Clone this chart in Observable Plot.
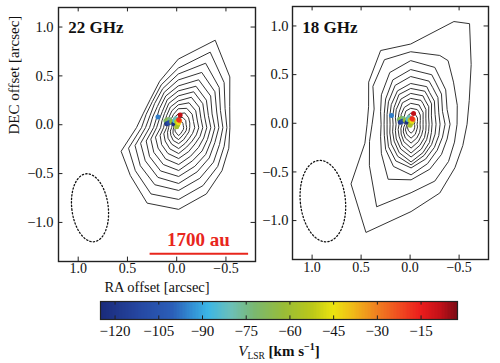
<!DOCTYPE html>
<html><head><meta charset="utf-8">
<script src="https://cdn.jsdelivr.net/npm/d3@7"></script>
<script src="https://cdn.jsdelivr.net/npm/@observablehq/plot@0.6"></script>
<style>
body{margin:0;background:#fff}
#root{position:relative;width:500px;height:363px;overflow:hidden;background:#fff}
#root > svg{position:absolute}
</style></head><body><div id="root"></div>
<script>
// ---------------- data ----------------
const xTicks = [1.0, 0.5, 0.0, -0.5];
const yTicks = [1.0, 0.5, 0.0, -0.5, -1.0];
const vTicks = [-120, -105, -90, -75, -60, -45, -30, -15];
const vDomain = [-125, -2.5];
// colour map stops (km/s -> colour)
const cmapV = [-125, -112, -100, -93, -88, -80, -72, -62, -52, -45, -38, -30, -22, -15, -8, -2.5];
const cmapC = ["#1a2a7a", "#2546a0", "#2b5fb8", "#3393d6", "#3bb6e6", "#6cc0b8", "#7ab870", "#98bc38",
               "#bcc818", "#ece410", "#f0b818", "#f08020", "#f04a20", "#ec1c1c", "#c01018", "#7a0a14"];

// water masers: offsets [arcsec] and V_LSR [km/s]
const masRA  = [0.19, 0.11, 0.09, 0.07, 0.10, 0.08, 0.05, 0.03, 0.02, 0.01, 0.00, -0.01, 0.00, -0.02, -0.03, -0.02, -0.035];
const masDEC = [0.08, 0.04, 0.05, 0.05, 0.01, 0.02, 0.03, 0.01, 0.04, 0.06, 0.03, 0.00, -0.02, 0.02, 0.04, 0.05, 0.10];
const masV   = [-96, -70, -66, -74, -118, -110, -62, -122, -85, -80, -52, -56, -58, -44, -28, -18, -8];

// continuum contours, read along rays (deg, clockwise from north on the page);
// each row: radii of the contours (inner -> outer) in units of 0.01 arcsec
const rayAngles22 = [0, 22.5, 45, 67.5, 90, 112.5, 135, 157.5, 180, 202.5, 225, 247.5, 270, 292.5, 315, 337.5];
const center22 = [-0.02, -0.03];
const rad22 = [
  [7,10,14,19,23,27,32,37,42,48,54,60,69],
  [7,11,16,21,27,33,39,45,52,60,70,82,95],
  [6,10,14,19,24,29,34,39,45,51,57,64,72],
  [5,8,12,16,20,24,28,32,36,41,45,50,55],
  [5,8,11,16,20,24,28,32,36,40,44,48,51],
  [5,8,11,15,19,23,27,31,35,39,44,49,54],
  [5,8,11,15,19,23,28,33,38,43,49,55,61],
  [6,9,13,17,21,26,31,36,42,48,55,63,72],
  [8,12,16,21,26,31,37,43,49,56,63,72,82],
  [6,10,14,18,23,28,34,40,47,54,62,72,82],
  [5,8,11,15,19,24,29,35,41,47,54,61,68],
  [4,6,9,12,16,20,25,30,35,41,47,54,62],
  [3,5,7,10,12,15,18,22,25,29,33,37,42],
  [3,5,7,10,12,15,18,21,24,28,31,35,38],
  [4,6,9,11,14,17,20,23,27,30,34,37,40],
  [5,8,11,14,18,22,26,30,34,38,42,46,50]
];
const rayAngles18 = [0, 22.5, 30, 45, 67.5, 90, 112.5, 135, 157.5, 180, 202.5, 225, 247.5, 270, 292.5, 315, 337.5];
const center18 = [-0.01, -0.01];
const rad18 = [
  [6,11,16,21,26,31,36,41,48,55,64,73,81],
  [6,11,16,21,26,31,36,41,47,54,62,75,112],
  [6,10,15,19,24,28,33,37,43,49,56,74,117],
  [5,9,13,17,21,25,29,33,38,43,49,60,85],
  [4,7,10,13,16,19,22,26,30,34,39,50,63],
  [3,6,9,12,15,18,21,25,29,34,39,46,56],
  [4,7,10,13,16,19,22,26,30,34,39,47,56],
  [5,8,12,15,19,22,26,29,33,37,43,53,62],
  [7,11,15,19,23,27,31,34,38,43,49,62,75],
  [9,14,19,24,29,33,38,41,44,51,56,69,88],
  [7,11,15,19,23,27,31,35,40,46,60,90,118],
  [5,8,11,14,17,21,24,28,32,36,42,59,85],
  [3,5,8,11,14,17,20,23,26,29,33,45,50],
  [2,4,6,9,12,15,18,21,24,27,30,39,44],
  [3,5,8,11,14,17,20,23,26,29,33,40,46],
  [4,7,10,14,17,21,24,28,32,36,42,54,60],
  [5,9,14,18,23,27,32,36,42,48,56,70,80]
];
const R_UNIT = 0.0102; // arcsec per table unit

// synthesized beams: centre RA, DEC, semi-major, semi-minor [arcsec], PA [deg]
const beamRA = [0.88, 0.89], beamDEC = [-0.85, -0.80];
const beamMaj = [0.35, 0.42], beamMin = [0.185, 0.23], beamPA = [7, 6];

const panelLabels = ["22 GHz", "18 GHz"];
const scaleBarLabel = "1700 au";

// ---------------- helpers ----------------
const FONT = '"Liberation Serif", "Times New Roman", serif';
const fmt = d => (d < 0 ? "\u2212" : "") + Math.abs(d).toFixed(1);
const colorScale = {type: "linear", domain: cmapV, range: cmapC, interpolate: "rgb", clamp: true};
const masers = masRA.map((ra, i) => ({ra, dec: masDEC[i], v: masV[i]}));

function contourPoints(center, angles, table) {
  const pts = [];
  const n = table[0].length;
  for (let l = 0; l < n; l++) {
    angles.forEach((a, k) => {
      const t = a * Math.PI / 180, r = table[k][l] * R_UNIT;
      pts.push({lev: l, ra: center[0] - r * Math.sin(t), dec: center[1] + r * Math.cos(t)});
    });
  }
  return pts;
}
function beamPoints(i) {
  const pa = beamPA[i] * Math.PI / 180;
  return d3.range(0, 361, 3).map(deg => {
    const t = deg * Math.PI / 180;
    const u = beamMin[i] * Math.cos(t), v = beamMaj[i] * Math.sin(t);
    return {ra: beamRA[i] + u * Math.cos(pa) + v * Math.sin(pa),
            dec: beamDEC[i] - u * Math.sin(pa) + v * Math.cos(pa)};
  });
}

function panel(i, opts) {
  const contours = i === 0 ? contourPoints(center22, rayAngles22, rad22) : contourPoints(center18, rayAngles18, rad18);
  const tk = 0.045;
  const marks = [
    Plot.line(contours, {x: "ra", y: "dec", z: "lev", curve: "linear-closed", stroke: "#333", strokeWidth: 1}),
    Plot.line(beamPoints(i), {x: "ra", y: "dec", stroke: "#111", strokeWidth: 1.3, strokeDasharray: "1.3,2.2"}),
    Plot.dot(masers, {x: "ra", y: "dec", fill: "v", r: 2.5}),
    Plot.text([panelLabels[i]], {x: 1.1, y: i === 0 ? 0.935 : 0.925, text: d => d, textAnchor: "start", lineAnchor: "bottom",
      fontWeight: "bold", fontSize: 17}),
    Plot.ruleX(xTicks, {x: d => d, y1: -1.4, y2: -1.4 + tk, stroke: "#222"}),
    Plot.ruleX(xTicks, {x: d => d, y1: 1.2 - tk, y2: 1.2, stroke: "#222"}),
    Plot.ruleY(yTicks, {y: d => d, x1: 1.2, x2: 1.2 - tk, stroke: "#222"}),
    Plot.ruleY(yTicks, {y: d => d, x1: -0.8 + tk, x2: -0.8, stroke: "#222"}),
    Plot.frame({stroke: "#222", strokeWidth: 1.4}),
    Plot.axisX(xTicks, {tickFormat: fmt, tickSize: 0, tickPadding: opts.xPad, label: null, fontSize: 14}),
    Plot.axisY(yTicks, {tickFormat: fmt, tickSize: 0, tickPadding: opts.yPad, label: null, fontSize: 14.5})
  ];
  if (i === 0) {
    marks.push(
      Plot.ruleY([-1.32], {y: d => d, x1: 0.27, x2: -0.73, stroke: "#e8261c", strokeWidth: 2}),
      Plot.text([scaleBarLabel], {x: -0.22, y: -1.246, text: d => d, lineAnchor: "bottom", fill: "#e8261c",
        fontWeight: "bold", fontSize: 19}),
      Plot.text(["DEC offset [arcsec]"], {frameAnchor: "left", dx: -44, rotate: -90, text: d => d, fontSize: 15}),
      Plot.text(["RA offset [arcsec]"], {frameAnchor: "bottom", dy: 30, text: d => d, fontSize: 14.5})
    );
  }
  return Plot.plot({
    width: opts.width, height: 290,
    marginLeft: opts.ml, marginRight: opts.mr, marginTop: opts.mt, marginBottom: opts.mb,
    style: {fontFamily: FONT, fontSize: "15px", background: "transparent", overflow: "visible", color: "#111"},
    x: {domain: [1.2, -0.8]},
    y: {domain: [-1.4, 1.2]},
    color: colorScale,
    marks
  });
}

const root = document.getElementById("root");

const right = panel(1, {width: 250, ml: 42, mr: 12, mt: 6, mb: 31, xPad: 3, yPad: 4});
right.style.left = "250px"; right.style.top = "0px";
root.appendChild(right);

const left = panel(0, {width: 262, ml: 58, mr: 7, mt: 7, mb: 29, xPad: 2, yPad: 5});
left.style.left = "0px"; left.style.top = "0px";
root.appendChild(left);

// colour bar
const cells = d3.range(vDomain[0], vDomain[1], 0.5);
const cb = Plot.plot({
  width: 500, height: 73, marginLeft: 100, marginRight: 43, marginTop: 11, marginBottom: 44,
  style: {fontFamily: FONT, fontSize: "15px", background: "transparent", overflow: "visible", color: "#111"},
  x: {domain: vDomain},
  y: {domain: [0, 1], axis: null},
  color: colorScale,
  marks: [
    Plot.rect(cells, {x1: d => d, x2: d => Math.min(d + 0.6, vDomain[1]), y1: 0, y2: 1, fill: d => d + 0.25, shapeRendering: "crispEdges"}),
    Plot.ruleX(vTicks, {x: d => d, y1: 0, y2: 0.2, stroke: "#222"}),
    Plot.ruleX(vTicks, {x: d => d, y1: 0.8, y2: 1, stroke: "#222"}),
    Plot.frame({stroke: "#222", strokeWidth: 1.2}),
    Plot.axisX(vTicks, {tickFormat: d => (d < 0 ? "\u2212" : "") + Math.abs(d), tickSize: 0, tickPadding: 6, label: null, fontSize: 15})
  ]
});
cb.style.left = "0px"; cb.style.top = "290px";
root.appendChild(cb);

const lab = d3.select(cb).append("text")
  .attr("x", 279).attr("y", 66).attr("text-anchor", "middle")
  .attr("font-family", FONT).attr("font-size", 15).attr("fill", "#111");
lab.append("tspan").attr("font-style", "italic").text("V");
lab.append("tspan").attr("font-size", 9.5).attr("dy", 3).text("LSR");
lab.append("tspan").attr("dy", -3).attr("font-weight", "bold").text(" [km s");
lab.append("tspan").attr("font-size", 10).attr("dy", -6).attr("font-weight", "bold").text("\u22121");
lab.append("tspan").attr("dy", 6).attr("font-weight", "bold").text("]");
</script></body></html>
